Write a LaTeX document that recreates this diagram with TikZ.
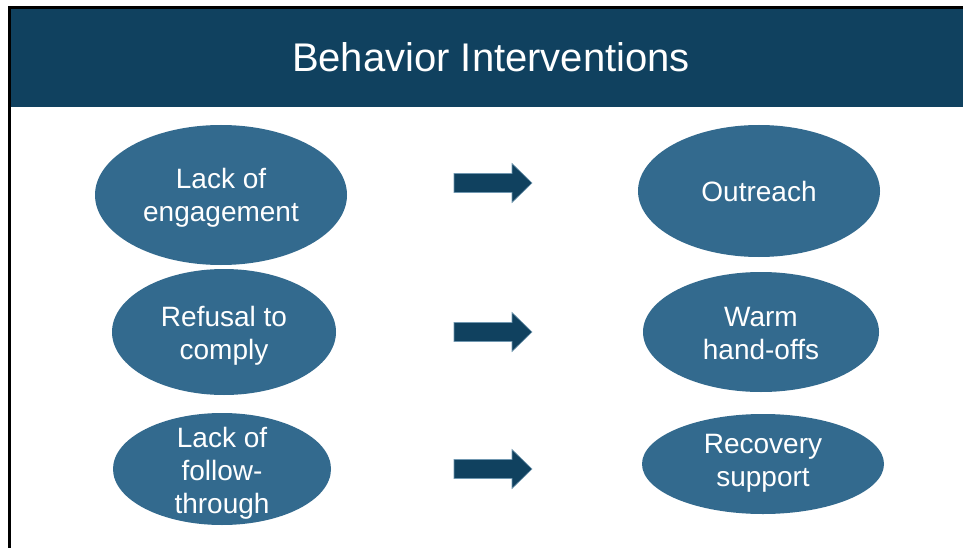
\documentclass[tikz,border=0pt]{standalone}
\usepackage{fontspec}
\setmainfont{Liberation Sans}
\definecolor{hdr}{HTML}{10415F}
\definecolor{ell}{HTML}{336A8E}
\begin{document}
\begin{tikzpicture}[x=1pt,y=-1pt,
  oval/.style={draw=none,text=white,font=\fontsize{28}{33}\selectfont,align=center,inner sep=0pt},
  arr/.style={fill=hdr,draw=ell!70!white,line width=0.6pt}]
\useasboundingbox (0,0) rectangle (963,548);
\fill[white] (0,0) rectangle (963,548);
\fill[hdr] (10,8) rectangle (963,107);
\draw[line width=3pt] (9.5,548) -- (9.5,7.5) -- (963,7.5);
\node[text=white,font=\fontsize{40}{46}\selectfont] (title) at (491,57) {Behavior Interventions};
% ellipses
\fill[ell] (221,195) ellipse [x radius=126,y radius=70];
\node[oval] (a1) at (221,198) {Lack of\\engagement};
\fill[ell] (224,332) ellipse [x radius=112,y radius=63];
\node[oval] (a2) at (224,336) {Refusal to\\comply};
\fill[ell] (222,469) ellipse [x radius=109,y radius=56];
\node[oval] (a3) at (222,473) {Lack of\\follow-\\through};
\fill[ell] (759,191) ellipse [x radius=121,y radius=66];
\node[oval] (b1) at (759,191) {Outreach};
\fill[ell] (761,332) ellipse [x radius=118,y radius=60];
\node[oval] (b2) at (761,334) {Warm\\hand-offs};
\fill[ell] (763,464) ellipse [x radius=121,y radius=50];
\node[oval] (b3) at (763,463) {Recovery\\support};
% arrows
\foreach \yy/\nm in {183/r1,332/r2,469/r3}{
  \draw[arr] (454,\yy-9.5) -- (512,\yy-9.5) -- (512,\yy-19.5) -- (532,\yy) -- (512,\yy+19.5) -- (512,\yy+9.5) -- (454,\yy+9.5) -- cycle;
}
\end{tikzpicture}
\end{document}
